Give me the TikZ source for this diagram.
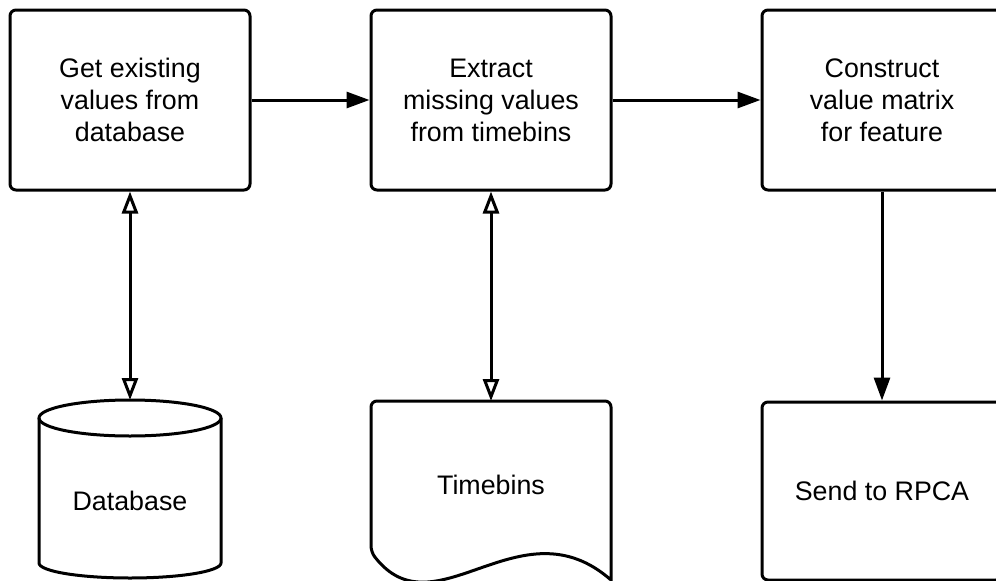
\documentclass[tikz,border=0pt]{standalone}
\usepackage{fontspec}
\setmainfont{Liberation Sans}
\usetikzlibrary{arrows.meta}
\begin{document}
\begin{tikzpicture}[x=1pt,y=-1pt,line width=3pt,
  proc/.style={draw,fill=white,rounded corners=6pt,minimum width=240pt,minimum height=180pt,
    align=center,inner sep=0pt,font=\fontsize{26.8}{32}\selectfont},
  lbl/.style={font=\fontsize{26.8}{32}\selectfont},
  flow/.style={-{Triangle[length=23pt,width=16pt]}},
  link/.style={{Triangle[open,length=22pt,width=16pt]}-{Triangle[open,length=22pt,width=16pt]}}]
\useasboundingbox (0,0) rectangle (996,581);

% process steps
\node[proc] (get) at (130,100) {Get existing\\values from\\database};
\node[proc] (extract) at (491,100) {Extract\\missing values\\from timebins};
\node[proc] (build) at (882,100) {Construct\\value matrix\\for feature};
\node[proc,minimum height=178pt] (send) at (882,491) {Send to RPCA};

% database cylinder
\draw[fill=white] (39,418) -- (39,563) arc[start angle=180,end angle=0,x radius=91,y radius=15] -- (221,418);
\draw (130,418) ellipse[x radius=91,y radius=18];
\coordinate (dbtop) at (130,400);
\node[lbl] (db) at (130,501) {Database};

% timebins document
\draw[rounded corners=6pt] (611,580) -- (611,401) -- (371,401) -- (371,552)
  [sharp corners] .. controls (435,635) and (520,500) .. (611,580) -- cycle;
\coordinate (doctop) at (491,401);
\node[lbl] (tb) at (491,485) {Timebins};

% connectors
\draw[flow] (get.east) -- (extract.west);
\draw[flow] (extract.east) -- (build.west);
\draw[flow] (build.south) -- (send.north);
\draw[link] (get.south) -- (dbtop);
\draw[link] (extract.south) -- (doctop);
\end{tikzpicture}
\end{document}
